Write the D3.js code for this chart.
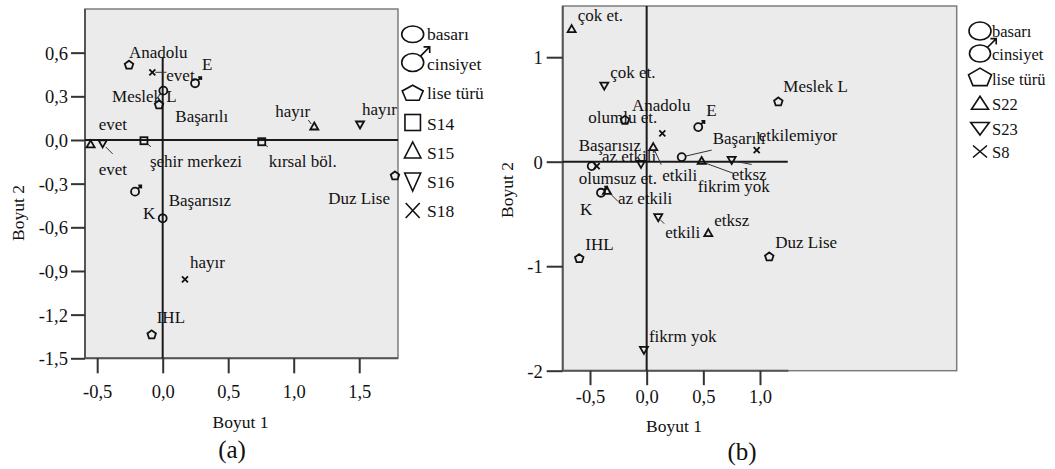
<!DOCTYPE html>
<html><head><meta charset="utf-8">
<script src="https://cdn.jsdelivr.net/npm/d3@7"></script>
<style>
body{margin:0;background:#fff;}
svg, svg text{font-family:"Liberation Serif","DejaVu Serif",serif !important;fill:#111;}
</style></head><body>
<svg id="c" width="1055" height="469" style="font-family:'Liberation Serif',serif"></svg>
<script>
// ================= DATA: panel (a) =================
const aXTicks = [-0.5, 0, 0.5, 1.0, 1.5];
const aYTicks = [0.6, 0.3, 0, -0.3, -0.6, -0.9, -1.2, -1.5];
const aLegend = ["basarı", "cinsiyet", "lise türü", "S14", "S15", "S16", "S18"];
const aBasari   = [{cat:"Başarılı", x:0.005, y:0.339}, {cat:"Başarısız", x:0.0, y:-0.538}];
const aCinsiyet = [{cat:"E", x:0.247, y:0.39}, {cat:"K", x:-0.211, y:-0.355}];
const aLise     = [{cat:"Anadolu", x:-0.257, y:0.52}, {cat:"Meslek L", x:-0.028, y:0.247},
                   {cat:"IHL", x:-0.084, y:-1.333}, {cat:"Duz Lise", x:1.773, y:-0.241}];
const aS14 = [{cat:"şehir merkezi", x:-0.143, y:-0.005}, {cat:"kırsal böl.", x:0.756, y:-0.012}];
const aS15 = [{cat:"evet", x:-0.55, y:-0.027}, {cat:"hayır", x:1.157, y:0.096}];
const aS16 = [{cat:"evet", x:-0.458, y:-0.027}, {cat:"hayır", x:1.506, y:0.103}];
const aS18 = [{cat:"evet", x:-0.079, y:0.465}, {cat:"hayır", x:0.17, y:-0.957}];

// ================= DATA: panel (b) =================
const bXTicks = [-0.5, 0, 0.5, 1.0];
const bYTicks = [1, 0, -1, -2];
const bLegend = ["basarı", "cinsiyet", "lise türü", "S22", "S23", "S8"];
const bBasari   = [{cat:"Başarılı", x:0.309, y:0.044}, {cat:"Başarısız", x:-0.485, y:-0.042}];
const bCinsiyet = [{cat:"E", x:0.455, y:0.331}, {cat:"K", x:-0.403, y:-0.297}];
const bLise     = [{cat:"Anadolu", x:-0.192, y:0.405}, {cat:"Meslek L", x:1.162, y:0.58},
                   {cat:"IHL", x:-0.595, y:-0.919}, {cat:"Duz Lise", x:1.082, y:-0.903}];
const bS22 = [{cat:"çok et.", x:-0.662, y:1.273}, {cat:"etkili", x:0.058, y:0.144},
              {cat:"az etkili", x:-0.35, y:-0.275}, {cat:"fikrim yok", x:0.485, y:0.012},
              {cat:"etksz", x:0.544, y:-0.679}];
const bS23 = [{cat:"çok et.", x:-0.374, y:0.723}, {cat:"az etkili", x:-0.05, y:-0.026},
              {cat:"etkili", x:0.102, y:-0.536}, {cat:"etksz", x:0.75, y:0.012},
              {cat:"fikrm yok", x:-0.024, y:-1.806}];
const bS8  = [{cat:"olumlu et.", x:0.138, y:0.271}, {cat:"olumsuz et.", x:-0.441, y:-0.042},
              {cat:"etkilemiyor", x:0.971, y:0.111}];

// ================= LAYOUT (label offsets in px, leaders) =================
const labA = {
  "basarı/Başarılı":[12,31], "basarı/Başarısız":[6,-12],
  "cinsiyet/E":[7,-13], "cinsiyet/K":[8,27],
  "lise türü/Anadolu":[0,-6], "lise türü/Meslek L":[-47,-2], "lise türü/IHL":[5,-11], "lise türü/Duz Lise":[-5,29,"end"],
  "S14/şehir merkezi":[6,26], "S14/kırsal böl.":[7,25],
  "S15/evet":[8,-14], "S15/hayır":[-39,-9],
  "S16/evet":[-4,31], "S16/hayır":[2,-10],
  "S18/evet":[14,9], "S18/hayır":[5,-11]
};
const leadA = {
  "S18/evet":[3,0,14,0], "S16/evet":[3,3,10,10], "S14/şehir merkezi":[3,3,7,6],
  "S14/kırsal böl.":[3,3,6,5], "S15/hayır":[-3,-2,-6,-6]
};
const labB = {
  "basarı/Başarılı":[31,-13], "basarı/Başarısız":[-13,-15],
  "cinsiyet/E":[8,-11], "cinsiyet/K":[-21,22],
  "lise türü/Anadolu":[7,-8], "lise türü/Meslek L":[5,-9], "lise türü/IHL":[6,-8], "lise türü/Duz Lise":[6,-8],
  "S22/çok et.":[6,-8], "S22/etkili":[9,34], "S22/az etkili":[11,14], "S22/fikrim yok":[-4,32], "S22/etksz":[6,-7],
  "S23/çok et.":[6,-8], "S23/az etkili":[-39,-2], "S23/etkili":[7,20], "S23/etksz":[0,20], "S23/fikrm yok":[5,-8],
  "S8/olumlu et.":[-74,-10], "S8/olumsuz et.":[-18,18], "S8/etkilemiyor":[2,-9]
};
const leadB = {
  "basarı/Başarılı":[4,-1,30,-7], "S22/etkili":[1,3,8,18], "S22/az etkili":[2,2,11,11],
  "S22/fikrim yok":[2,2,32,13], "S23/etkili":[2,2,6,6], "S23/etksz":[4,1,20,4]
};

const shapeOf = {"basarı":"circle","cinsiyet":"male","lise türü":"pentagon","S14":"square",
  "S15":"triUp","S16":"triDown","S18":"cross","S22":"triUp","S23":"triDown","S8":"cross"};

const FONT = "'Liberation Serif', 'DejaVu Serif', serif";
const svg = d3.select("#c");
const fmt1 = v => v.toFixed(1).replace(".", ",");
const fmt0 = v => String(v);

function drawSymbol(g, shape, cx, cy, w, h, sw) {
  const s = g.append("g").attr("fill","none").attr("stroke","#111").attr("stroke-width",sw);
  if (shape === "circle" || shape === "male") {
    s.append("ellipse").attr("cx",cx).attr("cy",cy).attr("rx",w/2).attr("ry",h/2);
    if (shape === "male") {
      const sx = cx + w/2*0.707, sy = cy - h/2*0.707, L = w*0.42;
      const ex = sx + L, ey = sy - L, a = Math.max(3, w*0.28);
      s.append("path").attr("d",`M${sx},${sy}L${ex},${ey}M${ex-a},${ey}L${ex},${ey}L${ex},${ey+a}`);
    }
  } else if (shape === "pentagon") {
    const pts = d3.range(5).map(k => {
      const ang = -Math.PI/2 + k*2*Math.PI/5;
      return [cx + Math.cos(ang)*w/1.902, cy + 0.1*h + Math.sin(ang)*h/1.809];
    });
    s.append("path").attr("d","M"+pts.map(p=>p.join(",")).join("L")+"Z");
  } else if (shape === "square") {
    s.append("rect").attr("x",cx-w/2).attr("y",cy-h/2).attr("width",w).attr("height",h);
  } else if (shape === "triUp") {
    s.append("path").attr("d",`M${cx},${cy-h/2}L${cx+w/2},${cy+h/2}L${cx-w/2},${cy+h/2}Z`);
  } else if (shape === "triDown") {
    s.append("path").attr("d",`M${cx},${cy+h/2}L${cx+w/2},${cy-h/2}L${cx-w/2},${cy-h/2}Z`);
  } else if (shape === "cross") {
    s.append("path").attr("d",`M${cx-w/2},${cy-h/2}L${cx+w/2},${cy+h/2}M${cx+w/2},${cy-h/2}L${cx-w/2},${cy+h/2}`);
  }
}

const plotSize = {circle:[8,8], male:[8,8], pentagon:[8.5,8], square:[7,7], triUp:[8,7], triDown:[8,7], cross:[6,6]};

function txt(g, x, y, s, size, anchor) {
  return g.append("text").attr("x",x).attr("y",y).attr("text-anchor",anchor||"start")
    .style("font-family",FONT).style("font-size",size).attr("fill","#111").text(s);
}

function drawPanel(cfg) {
  const g = svg.append("g");
  const F = cfg.frame;
  const x = d3.scaleLinear().domain(cfg.xDomain).range([F.x0, F.x1]);
  const y = d3.scaleLinear().domain(cfg.yDomain).range([F.y1, F.y0]);

  g.append("rect").attr("x",F.x0).attr("y",F.y0).attr("width",F.x1-F.x0).attr("height",F.y1-F.y0)
    .attr("fill","#ebebeb").attr("stroke","#7d7d7d").attr("stroke-width",1.5);

  g.append("line").attr("x1",F.x0).attr("x2",F.x0).attr("y1",y(cfg.yAxisTop)).attr("y2",F.y1)
    .attr("stroke","#555").attr("stroke-width",2);
  g.append("line").attr("x1",F.x0).attr("x2",x(cfg.xAxisRight)).attr("y1",F.y1).attr("y2",F.y1)
    .attr("stroke","#555").attr("stroke-width",2);

  const gx = g.append("g").attr("transform",`translate(0,${F.y1})`)
    .call(d3.axisBottom(x).tickValues(cfg.xTicks).tickSize(cfg.xTickLen).tickFormat(cfg.xFmt));
  gx.attr("font-family",FONT).attr("font-size",null);
  gx.select(".domain").remove();
  gx.selectAll("line").attr("stroke","#333").attr("stroke-width",2);
  gx.selectAll("text").attr("y",cfg.xLabY).attr("dy",0).attr("fill","#111")
    .style("font-family",FONT).style("font-size","18.5px");

  const gy = g.append("g").attr("transform",`translate(${F.x0},0)`)
    .call(d3.axisLeft(y).tickValues(cfg.yTicks).tickSize(cfg.yTickLen).tickPadding(cfg.yPad).tickFormat(cfg.yFmt));
  gy.attr("font-family",FONT).attr("font-size",null);
  gy.select(".domain").remove();
  gy.selectAll("line").attr("stroke","#333").attr("stroke-width",2);
  gy.selectAll("text").attr("fill","#111").attr("dy","0.36em")
    .style("font-family",FONT).style("font-size","18.5px");

  g.append("line").attr("x1",x(cfg.hRef[0])).attr("x2",x(cfg.hRef[1])).attr("y1",y(0)).attr("y2",y(0))
    .attr("stroke","#1a1a1a").attr("stroke-width",2);
  g.append("line").attr("x1",x(0)).attr("x2",x(0)).attr("y1",y(cfg.vRef[0])).attr("y2",y(cfg.vRef[1]))
    .attr("stroke","#1a1a1a").attr("stroke-width",2);

  cfg.groups.forEach(([name, pts]) => {
    const shape = shapeOf[name];
    const [w,h] = plotSize[shape];
    pts.forEach(p => {
      const px = x(p.x), py = y(p.y);
      const key = name + "/" + p.cat;
      const ld = cfg.leaders[key];
      if (ld) g.append("line").attr("x1",px+ld[0]).attr("y1",py+ld[1]).attr("x2",px+ld[2]).attr("y2",py+ld[3])
                .attr("stroke","#333").attr("stroke-width",1);
      drawSymbol(g, shape, px, py, w, h, 1.8);
      const lb = cfg.labels[key] || [5,-6];
      txt(g, px+lb[0], py+lb[1], p.cat, "17px", lb[2]==="end"?"end":"start");
    });
  });

  txt(g, cfg.xTitle[0], cfg.xTitle[1], "Boyut 1", "17.5px", "middle");
  g.append("text").attr("transform",`translate(${cfg.yTitle[0]},${cfg.yTitle[1]}) rotate(-90)`)
    .attr("text-anchor","middle").style("font-family",FONT).style("font-size","17.5px").attr("fill","#111").text("Boyut 2");
  txt(g, cfg.tag[0], cfg.tag[1], cfg.tagText, "25px", "middle");

  const L = cfg.legend;
  cfg.legendNames.forEach((n, i) => {
    const shape = shapeOf[n];
    const [w,h] = L.sizes[shape];
    drawSymbol(g, shape, L.x, L.cy[i], w, h, L.sw);
    txt(g, L.tx, L.by[i], n, L.font);
  });
}

drawPanel({
  frame:{x0:85, x1:398, y0:9, y1:358.3},
  xDomain:[-0.593, 1.796], yDomain:[-1.5, 0.90],
  xTicks:aXTicks, yTicks:aYTicks, xFmt:fmt1, yFmt:fmt1,
  xTickLen:15, xLabY:40, yTickLen:14, yPad:3,
  yAxisTop:0.90, xAxisRight:1.796,
  hRef:[-0.593, 1.796], vRef:[0.567, -1.5],
  groups:[["basarı",aBasari],["cinsiyet",aCinsiyet],["lise türü",aLise],["S14",aS14],["S15",aS15],["S16",aS16],["S18",aS18]],
  labels:labA, leaders:leadA,
  xTitle:[240.5, 428], yTitle:[24, 213], tag:[232, 458], tagText:"(a)",
  legendNames:aLegend,
  legend:{x:412.7, tx:427, cy:[34.3, 62.5, 92, 122.5, 150, 182, 210.5], by:[40, 70, 99, 130, 159, 188, 217],
    font:"17.5px", sw:1.6,
    sizes:{circle:[22,16.5], male:[22,18], pentagon:[21,15], square:[15.5,16], triUp:[16.5,16], triDown:[16,18], cross:[14,15]}}
});

drawPanel({
  frame:{x0:562.7, x1:956.7, y0:6, y1:370.7},
  xDomain:[-0.741, 2.736], yDomain:[-2, 1.49],
  xTicks:bXTicks, yTicks:bYTicks, xFmt:fmt1, yFmt:fmt0,
  xTickLen:14.5, xLabY:32.5, yTickLen:16, yPad:4,
  yAxisTop:1.49, xAxisRight:1.25,
  hRef:[-0.741, 1.245], vRef:[1.49, -2],
  groups:[["basarı",bBasari],["cinsiyet",bCinsiyet],["lise türü",bLise],["S22",bS22],["S23",bS23],["S8",bS8]],
  labels:labB, leaders:leadB,
  xTitle:[674, 432], yTitle:[513, 190], tag:[742, 460], tagText:"(b)",
  legendNames:bLegend,
  legend:{x:980, tx:992, cy:[31, 53.5, 76, 102.7, 128.8, 151.5], by:[37, 59.5, 85, 109.5, 135, 157.5],
    font:"16.5px", sw:1.6,
    sizes:{circle:[22,18], male:[21,17], pentagon:[23,17.5], triUp:[17,13], triDown:[18.5,12.5], cross:[14,12]}}
});
</script>
</body></html>
